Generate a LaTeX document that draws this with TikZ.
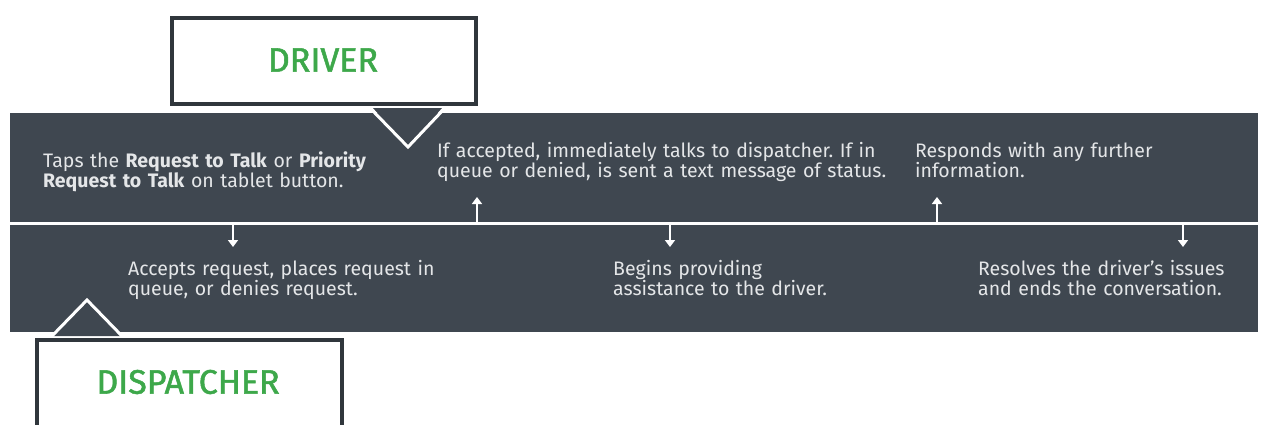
\documentclass[tikz,border=0pt]{standalone}
\usepackage{fontspec}
\setmainfont{Fira Sans}
\newfontfamily\rolefont[FakeBold=1.5]{Fira Sans}
\usetikzlibrary{arrows.meta}
\definecolor{band}{HTML}{3F4750}
\definecolor{boxline}{HTML}{30363C}
\definecolor{txt}{HTML}{E4E6E8}
\definecolor{grn}{HTML}{3DA84A}
\frenchspacing
\begin{document}
\begin{tikzpicture}[x=1pt,y=-1pt,
  desc/.style={anchor=base west, inner sep=0pt, align=left, text width=560pt, text=txt,
    font=\fontsize{19.5}{20}\selectfont\frenchspacing},
  role/.style={text=grn, inner sep=0pt, font=\rolefont\fontsize{34}{36}\selectfont},
  rolebox/.style={draw=boxline, line width=4pt, fill=white},
  tail/.style={draw=white, line width=3pt, line join=miter},
  flow/.style={draw=white, line width=1.6pt, -{Triangle[width=10pt,length=7pt]}}
]
\useasboundingbox (0,0) rectangle (1263,424);
% bands
\fill[band] (10,113) rectangle (1258,332);
\draw[white, line width=3pt] (10,223) -- (1258,223);
% driver box and tail
\draw[rolebox] (172,18) rectangle (476,104);
\fill[band] (373,108) -- (408,147) -- (442,108) -- cycle;
\draw[tail] (370,108) -- (408,147) -- (445,108);
\node[role] (driver) at (323,60) {DRIVER};
% dispatcher box and tail
\fill[band] (53,336) -- (87,300) -- (120,336) -- cycle;
\draw[tail] (10,336) -- (52,336) -- (87,300) -- (122,336) -- (342,336);
\draw[rolebox] (37,430) -- (37,340) -- (342,340) -- (342,430);
\node[role] (dispatcher) at (188,382) {DISPATCHER};
% texts
\node[desc] (t1) at (43,167) {Taps the \textbf{Request to Talk} or \textbf{Priority}\\\textbf{Request to Talk} on tablet button.};
\node[desc] (t2) at (437,157) {If accepted, immediately talks to dispatcher. If in\\queue or denied, is sent a text message of status.};
\node[desc, text width=320pt] (t3) at (915,157) {Responds with any further\\information.};
\node[desc] (b1) at (128,275) {Accepts request, places request in\\queue, or denies request.};
\node[desc] (b2) at (613,275) {Begins providing\\assistance to the driver.};
\node[desc, text width=280pt] (b3) at (978,275) {Resolves the driver's issues\\and ends the conversation.};
% arrows
\coordinate (d1s) at (233,224); \coordinate (d1e) at (233,247);
\coordinate (d2s) at (670,224); \coordinate (d2e) at (670,247);
\coordinate (d3s) at (1183,224); \coordinate (d3e) at (1183,247);
\coordinate (u1s) at (477,222); \coordinate (u1e) at (477,197);
\coordinate (u2s) at (937,222); \coordinate (u2e) at (937,197);
\draw[flow] (d1s) -- (d1e);
\draw[flow] (d2s) -- (d2e);
\draw[flow] (d3s) -- (d3e);
\draw[flow] (u1s) -- (u1e);
\draw[flow] (u2s) -- (u2e);
\end{tikzpicture}
\end{document}
